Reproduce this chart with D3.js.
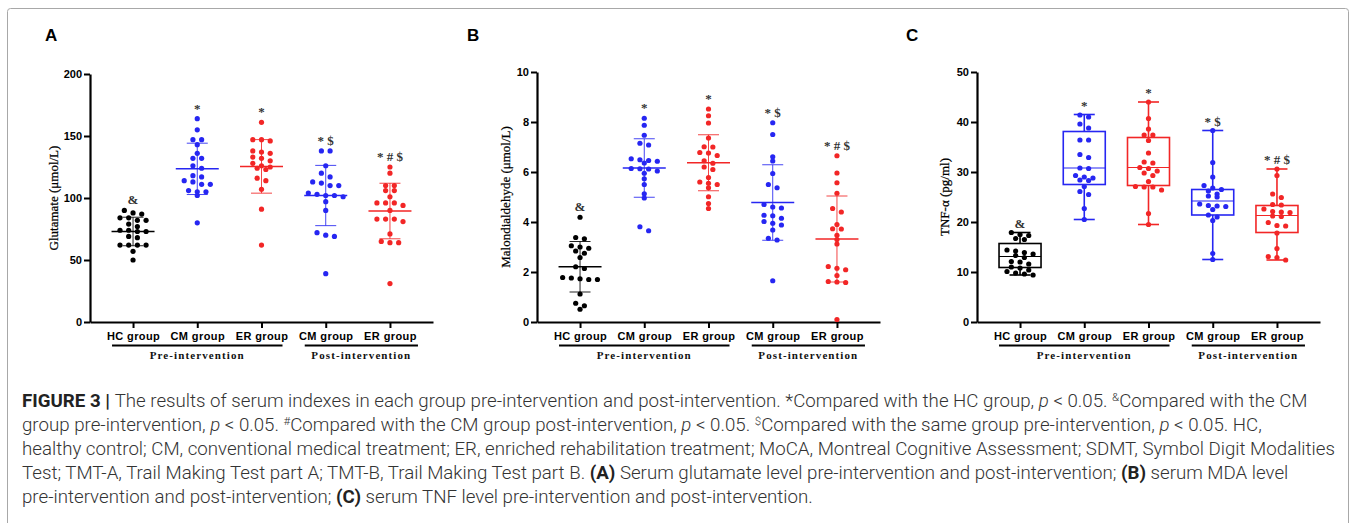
<!DOCTYPE html>
<html>
<head>
<meta charset="utf-8">
<script src="https://cdn.jsdelivr.net/npm/d3@7/dist/d3.min.js"></script>
<style>
  body { margin: 0; background: #fff; }
  svg { display: block; }
</style>
</head>
<body>
<script>
var groups = ['HC group', 'CM group', 'ER group', 'CM group', 'ER group'];
var groupColors = ['#000000', '#2626f2', '#f22626', '#2626f2', '#f22626'];
var phases = [
  { label: 'Pre-intervention', first: 0, last: 2 },
  { label: 'Post-intervention', first: 3, last: 4 }
];

// A - serum glutamate (umol/L), mean +/- SD
var glutamate = [
  [90, 88, 87, 84, 84, 82, 82, 79, 77, 74, 74, 73, 73, 69, 68, 62, 62, 62, 62, 57, 50],
  [164, 155, 147, 147, 143, 136, 132, 132, 126, 124, 118, 117, 114, 113, 111, 111, 106, 105, 105, 102, 80],
  [161, 147, 147, 146, 138, 137, 136, 133, 132, 130, 128, 126, 125, 124, 123, 116, 114, 107, 91, 62],
  [138, 138, 126, 120, 117, 113, 112, 110, 110, 104, 103, 102, 102, 101, 97, 90, 72, 70, 69, 39],
  [125, 120, 110, 110, 106, 106, 101, 96, 96, 96, 94, 90, 83, 83, 83, 81, 71, 65, 64, 64, 31]
];
var glutamateMean = [73, 123.5, 125.5, 102, 89.5];
var glutamateSD = [11.5, 20.7, 21.6, 24.3, 22.4];
var glutamateTicks = [0, 50, 100, 150, 200];
var glutamateMarks = ['&', '*', '*', '* $', '* # $'];

// B - malondialdehyde (umol/L), mean +/- SD
var mda = [
  [4.19, 3.38, 3.33, 3.05, 3.0, 2.95, 2.84, 2.75, 2.58, 2.21, 2.14, 1.78, 1.76, 1.73, 1.7, 1.7, 1.12, 0.75, 0.65, 0.51],
  [8.15, 7.87, 7.47, 7.15, 7.08, 6.53, 6.49, 6.46, 6.43, 6.36, 6.14, 6.13, 6.12, 6.04, 5.95, 5.73, 5.5, 5.13, 4.96, 3.81, 3.65],
  [8.52, 8.25, 7.96, 7.36, 7.01, 7.0, 6.78, 6.76, 6.66, 6.45, 6.35, 6.2, 6.1, 5.78, 5.6, 5.55, 5.5, 5.37, 5.01, 4.74, 4.54],
  [7.97, 7.5, 6.61, 6.44, 5.94, 5.5, 5.37, 4.7, 4.6, 4.56, 4.27, 4.25, 4.15, 4.02, 3.95, 3.88, 3.68, 3.35, 3.28, 1.65],
  [6.65, 5.96, 5.57, 5.15, 4.54, 4.4, 3.9, 3.73, 3.72, 3.47, 3.3, 3.12, 2.22, 2.15, 2.09, 1.86, 1.62, 1.6, 1.58, 0.1]
];
var mdaMean = [2.21, 6.16, 6.37, 4.78, 3.32];
var mdaSD = [1.01, 1.17, 1.12, 1.51, 1.72];
var mdaTicks = [0, 2, 4, 6, 8, 10];
var mdaMarks = ['&', '*', '*', '* $', '* # $'];

// C - TNF-alpha (pg/ml), box = [min, q1, median, q3, max]
var tnf = [
  [17.9, 17.5, 17.3, 16.7, 16.5, 14.4, 14.2, 13.9, 13.6, 13.3, 12.9, 12.1, 12.0, 11.6, 11.0, 10.8, 10.4, 10.1, 9.8, 9.6, 9.4],
  [41.4, 41.0, 39.6, 38.8, 36.4, 36.4, 33.5, 32.9, 30.8, 30.7, 29.3, 29.0, 28.8, 28.4, 28.3, 27.1, 26.1, 25.5, 22.7, 20.5],
  [44, 40.7, 38.6, 37.4, 37.4, 36.3, 33.8, 32.0, 31.8, 30.9, 30.7, 30.2, 29.8, 29.3, 28.1, 27.1, 27.0, 27.0, 26.4, 21.7, 19.5],
  [38.3, 31.9, 29.0, 27.3, 26.8, 26.5, 26.2, 25.6, 25.2, 25.0, 23.6, 23.3, 23.2, 23.1, 22.5, 21.4, 21.0, 20.3, 13.7, 12.5],
  [30.6, 29.3, 25.6, 24.9, 23.5, 23.4, 22.6, 22.1, 22.0, 21.9, 21.2, 21.1, 19.9, 19.3, 19.2, 17.8, 14.7, 13.1, 12.9, 12.4]
];
var tnfBox = [
  [9.4, 10.9, 13.1, 15.7, 17.9],
  [20.5, 27.5, 30.8, 38.1, 41.5],
  [19.5, 27.3, 30.9, 36.9, 44],
  [12.5, 21.4, 24.2, 26.5, 38.3],
  [12.4, 17.9, 21.3, 23.3, 30.6]
];
var tnfTicks = [0, 10, 20, 30, 40, 50];
var tnfMarks = ['&', '*', '*', '* $', '* # $'];

var panels = [
  { letter: 'A', letterX: 45, axisX: 90, endX: 433, max: 200, ticks: glutamateTicks,
    title: 'Glutamate (\u03bcmol/L)', titleX: 53, values: glutamate,
    mean: glutamateMean, sd: glutamateSD, marks: glutamateMarks, top: 74 },
  { letter: 'B', letterX: 467, axisX: 537, endX: 880, max: 10, ticks: mdaTicks,
    title: 'Malondialdehyde (\u03bcmol/L)', titleX: 505, values: mda,
    mean: mdaMean, sd: mdaSD, marks: mdaMarks, top: 72 },
  { letter: 'C', letterX: 906, axisX: 977, endX: 1320, max: 50, ticks: tnfTicks,
    title: 'TNF-\u03b1 (pg/ml)', titleX: 944, values: tnf,
    box: tnfBox, marks: tnfMarks, top: 72 }
];

var W = 1355, H = 523;
var bottom = 322;
var sans = "'Liberation Sans', Arial, sans-serif";
var serif = "'Liberation Serif', 'Times New Roman', serif";

var svg = d3.select('body').append('svg').attr('width', W).attr('height', H);

svg.append('rect')
  .attr('x', 7.5).attr('y', 8.5)
  .attr('width', 1341).attr('height', 600)
  .attr('rx', 3)
  .attr('fill', 'none')
  .attr('stroke', '#a8a8a8')
  .attr('stroke-width', 1);

// rows of dots, spread sideways like a scatter dot plot
function swarm(vals, y, cx) {
  var sorted = vals.slice().sort(function (a, b) { return b - a; });
  var rows = [];
  sorted.forEach(function (v) {
    var row = rows[rows.length - 1];
    if (row && y(v) - y(row[0]) < 4.2) row.push(v);
    else rows.push([v]);
  });
  var out = [];
  rows.forEach(function (row) {
    row.forEach(function (v, i) {
      out.push({ v: v, x: cx + (i - (row.length - 1) / 2) * 8.7 });
    });
  });
  return out;
}

panels.forEach(function (p) {
  var y = d3.scaleLinear().domain([0, p.max]).range([bottom, p.top]);
  var x = d3.scalePoint().domain(d3.range(groups.length)).range([p.axisX, p.endX]).padding(0.67);
  var g = svg.append('g');

  g.append('text')
    .attr('x', p.letterX).attr('y', 41)
    .attr('font-family', sans).attr('font-weight', 'bold').attr('font-size', '17px')
    .text(p.letter);

  var yAxis = g.append('g')
    .attr('transform', 'translate(' + p.axisX + ',0)')
    .call(d3.axisLeft(y).tickValues(p.ticks).tickSize(6).tickSizeOuter(0).tickPadding(2));
  var xAxis = g.append('g')
    .attr('transform', 'translate(0,' + bottom + ')')
    .call(d3.axisBottom(x).tickSize(6).tickSizeOuter(0).tickPadding(4)
      .tickFormat(function (i) { return groups[i]; }));

  [yAxis, xAxis].forEach(function (a) {
    a.select('.domain').attr('stroke', '#000').attr('stroke-width', 2.2);
    a.selectAll('.tick line').attr('stroke', '#000').attr('stroke-width', 2);
    a.selectAll('.tick text')
      .attr('fill', '#000')
      .attr('font-family', sans).attr('font-weight', 'bold').attr('font-size', '11px');
  });
  xAxis.selectAll('.tick text').attr('letter-spacing', '0.4px');

  g.append('text')
    .attr('transform', 'translate(' + p.titleX + ',' + (bottom + p.top) / 2 + ') rotate(-90)')
    .attr('text-anchor', 'middle')
    .attr('dy', '0.35em')
    .attr('font-family', serif).attr('font-size', '13px').attr('fill', '#000')
    .attr('stroke', '#000').attr('stroke-width', 0.25)
    .text(p.title);

  // group underlines and phase labels
  phases.forEach(function (ph) {
    var x0 = x(ph.first) - 21;
    var x1 = x(ph.last) + (ph.first === 0 ? 21 : 28);
    g.append('line')
      .attr('x1', x0).attr('x2', x1)
      .attr('y1', 345.5).attr('y2', 345.5)
      .attr('stroke', '#000').attr('stroke-width', 1.8);
    g.append('text')
      .attr('x', (x0 + x1) / 2).attr('y', 359)
      .attr('text-anchor', 'middle')
      .attr('font-family', serif).attr('font-weight', 'bold').attr('font-size', '11px')
      .attr('letter-spacing', '1.1px')
      .attr('fill', '#111')
      .text(ph.label);
  });

  groups.forEach(function (name, i) {
    var cx = x(i);
    var col = groupColors[i];
    var top;
    if (p.box) {
      var b = p.box[i];
      g.append('line')
        .attr('x1', cx).attr('x2', cx).attr('y1', y(b[0])).attr('y2', y(b[4]))
        .attr('stroke', col).attr('stroke-width', 1.6);
      [b[0], b[4]].forEach(function (v) {
        g.append('line')
          .attr('x1', cx - 10.5).attr('x2', cx + 10.5).attr('y1', y(v)).attr('y2', y(v))
          .attr('stroke', col).attr('stroke-width', 1.6);
      });
      g.append('rect')
        .attr('x', cx - 21).attr('y', y(b[3]))
        .attr('width', 42).attr('height', y(b[1]) - y(b[3]))
        .attr('fill', '#fff').attr('stroke', col).attr('stroke-width', 1.6);
      g.append('line')
        .attr('x1', cx - 21).attr('x2', cx + 21).attr('y1', y(b[2])).attr('y2', y(b[2]))
        .attr('stroke', col).attr('stroke-width', 1.2);
      top = y(b[4]) - 5;
    } else {
      var m = p.mean[i], s = p.sd[i];
      g.append('line')
        .attr('x1', cx).attr('x2', cx).attr('y1', y(m - s)).attr('y2', y(m + s))
        .attr('stroke', col).attr('stroke-width', 1).attr('opacity', 0.85);
      [m - s, m + s].forEach(function (v) {
        g.append('line')
          .attr('x1', cx - 10.5).attr('x2', cx + 10.5).attr('y1', y(v)).attr('y2', y(v))
          .attr('stroke', col).attr('stroke-width', 1).attr('opacity', 0.85);
      });
      g.append('line')
        .attr('x1', cx - 21.5).attr('x2', cx + 21.5).attr('y1', y(m)).attr('y2', y(m))
        .attr('stroke', col).attr('stroke-width', 1.5);
      top = y(d3.max(p.values[i])) - 6;
    }

    g.selectAll('circle.g' + i)
      .data(swarm(p.values[i], y, cx))
      .enter()
      .append('circle')
      .attr('class', 'g' + i)
      .attr('cx', function (d) { return d.x; })
      .attr('cy', function (d) { return y(d.v); })
      .attr('r', 2.6)
      .attr('fill', col);

    g.append('text')
      .attr('x', cx).attr('y', top)
      .attr('text-anchor', 'middle')
      .attr('font-family', serif).attr('font-weight', 'bold').attr('font-size', '13px')
      .attr('fill', '#333')
      .text(p.marks[i]);
  });
});

// caption
var caption = [
  [['b', 'FIGURE 3 | '], ['', 'The results of serum indexes in each group pre-intervention and post-intervention. *Compared with the HC group, '], ['i', 'p'], ['', ' < 0.05. '], ['s', '&'], ['', 'Compared with the CM']],
  [['', 'group pre-intervention, '], ['i', 'p'], ['', ' < 0.05. '], ['s', '#'], ['', 'Compared with the CM group post-intervention, '], ['i', 'p'], ['', ' < 0.05. '], ['s', '$'], ['', 'Compared with the same group pre-intervention, '], ['i', 'p'], ['', ' < 0.05. HC,']],
  [['', 'healthy control; CM, conventional medical treatment; ER, enriched rehabilitation treatment; MoCA, Montreal Cognitive Assessment; SDMT, Symbol Digit Modalities']],
  [['', 'Test; TMT-A, Trail Making Test part A; TMT-B, Trail Making Test part B. '], ['b', '(A)'], ['', ' Serum glutamate level pre-intervention and post-intervention; '], ['b', '(B)'], ['', ' serum MDA level']],
  [['', 'pre-intervention and post-intervention; '], ['b', '(C)'], ['', ' serum TNF level pre-intervention and post-intervention.']]
];

var capG = svg.append('g')
  .attr('font-family', "Roboto, 'Liberation Sans', sans-serif")
  .attr('font-weight', 300)
  .attr('fill', '#333');

var capLines = capG.selectAll('text')
  .data(caption)
  .enter()
  .append('text')
  .attr('x', 22)
  .attr('y', function (d, i) { return 407 + i * 24; })
  .attr('font-size', '16px');

capLines.each(function (parts) {
  var t = d3.select(this);
  var lift = 0;
  parts.forEach(function (pt) {
    var sp = t.append('tspan').text(pt[1]);
    if (pt[0] === 's') {
      sp.attr('font-size', '0.62em').attr('dy', -6);
      lift = 6;
      return;
    }
    if (lift) { sp.attr('dy', lift); lift = 0; }
    if (pt[0] === 'b') sp.attr('font-weight', 'bold').attr('fill', '#222');
    if (pt[0] === 'i') sp.attr('font-style', 'italic');
  });
});

// fit the caption width to the full lines of the figure
var full = capLines.filter(function (d, i) { return i === 2; }).node().getComputedTextLength();
var fs = 16 * 1314 / full;
capLines.attr('font-size', fs + 'px');
</script>
</body>
</html>
